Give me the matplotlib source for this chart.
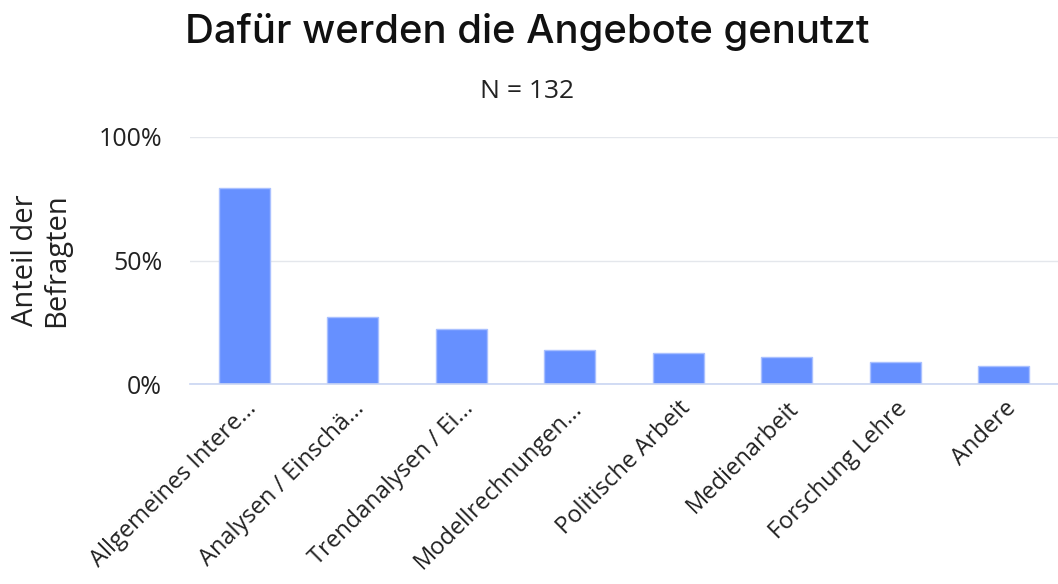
import matplotlib.pyplot as plt
from matplotlib.ticker import FuncFormatter
import numpy as np

plt.rcParams['font.family'] = ['Open Sans', 'DejaVu Sans']

# Data (share of respondents, %)
categories = ['Allgemeines Intere...', 'Analysen / Einschä...', 'Trendanalysen / Ei...',
              'Modellrechnungen...', 'Politische Arbeit', 'Medienarbeit',
              'Forschung Lehre', 'Andere']
shares = [79.5, 27.3, 22.1, 13.8, 12.4, 10.8, 8.8, 7.2]
yticks = [0, 50, 100]

BAR_COLOR = '#6690FF'
EDGE_COLOR = '#A9C0FF'
GRID_COLOR = '#E4E7EC'
BASE_COLOR = '#C9D5F2'
TEXT_COLOR = '#222222'

fig = plt.figure(figsize=(10.58, 5.84), dpi=100)
ax = fig.add_axes([190 / 1058, 1 - 384 / 584, (1058 - 190) / 1058, (384 - 137) / 584])

x = np.arange(len(categories))
ax.bar(x, shares, width=0.47, color=BAR_COLOR, edgecolor=EDGE_COLOR, linewidth=1, zorder=3)

ax.set_xlim(-0.5, len(categories) - 0.5)
ax.set_ylim(0, 100)
ax.set_yticks(yticks)
ax.yaxis.set_major_formatter(FuncFormatter(lambda v, p: f'{v:.0f}%'))
ax.grid(True, axis='y', color=GRID_COLOR, linewidth=1, zorder=0)
ax.grid(False, axis='x')
for s in ['top', 'right', 'left']:
    ax.spines[s].set_visible(False)
ax.spines['bottom'].set_color(BASE_COLOR)
ax.spines['bottom'].set_linewidth(1.2)
ax.spines['bottom'].set_zorder(4)
ax.tick_params(axis='y', length=0, pad=20, labelsize=18, labelcolor=TEXT_COLOR)
ax.tick_params(axis='x', length=0, pad=9, labelsize=17, labelcolor=TEXT_COLOR)

ax.set_xticks(x)
ax.set_xticklabels(categories, rotation=45, ha='right', rotation_mode='anchor')

fig.text(41 / 1058, 1 - 260 / 584, 'Anteil der\nBefragten', rotation=90, ha='center', va='center',
         fontsize=21, color=TEXT_COLOR, linespacing=1.1)

fig.text(527 / 1058, 1 - 32 / 584, 'Dafür werden die Angebote genutzt', ha='center', va='center',
         fontsize=28.8, fontweight='medium', family=['Inter', 'DejaVu Sans'], color='#111111')
fig.text(527 / 1058, 1 - 92 / 584, 'N = 132', ha='center', va='center', fontsize=19, color=TEXT_COLOR)

fig.savefig('out.png', dpi=100, facecolor='white')
